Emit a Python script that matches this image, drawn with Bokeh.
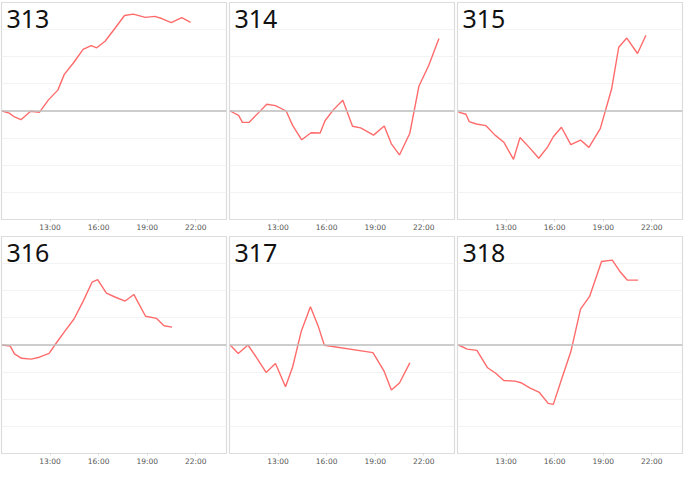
from bokeh.plotting import figure
from bokeh.layouts import gridplot
from bokeh.models import Range1d, FixedTicker, Span, Label
from bokeh.embed import file_html
from bokeh.resources import INLINE

# ---- data (hours of day, value) ----
names = ["313", "314", "315", "316", "317", "318"]
tick_hours = [13, 16, 19, 22]
tick_labels = ["13:00", "16:00", "19:00", "22:00"]

t313 = [10.04, 10.48, 10.8, 11.2, 11.8, 12.34, 12.9, 13.48, 13.88, 14.44, 15.04, 15.54,
        15.88, 16.4, 17.0, 17.6, 18.14, 18.88, 19.48, 19.94, 20.48, 21.14, 21.68]
v313 = [0.0, -0.08, -0.22, -0.32, -0.01, -0.05, 0.41, 0.77, 1.35, 1.77, 2.27, 2.41,
        2.33, 2.57, 3.04, 3.52, 3.57, 3.45, 3.49, 3.4, 3.26, 3.44, 3.27]

t314 = [10.04, 10.56, 10.8, 11.2, 11.8, 12.3, 12.84, 13.5, 13.9, 14.46, 15.04, 15.6, 15.9,
        16.44, 17.0, 17.6, 18.1, 18.9, 19.56, 20.0, 20.5, 21.14, 21.7, 22.3, 22.94]
v314 = [0.0, -0.16, -0.42, -0.42, -0.06, 0.25, 0.2, 0.0, -0.53, -1.06, -0.8, -0.81, -0.36,
        0.06, 0.4, -0.56, -0.62, -0.89, -0.55, -1.21, -1.62, -0.82, 0.91, 1.67, 2.67]

t315 = [10.06, 10.52, 10.72, 11.16, 11.76, 12.32, 12.86, 13.46, 13.86, 14.46, 15.02, 15.56,
        15.92, 16.42, 17.0, 17.6, 18.12, 18.82, 19.52, 19.96, 20.46, 21.12, 21.64]
v315 = [-0.04, -0.12, -0.39, -0.48, -0.54, -0.89, -1.15, -1.78, -0.98, -1.36, -1.74, -1.33,
        -0.95, -0.6, -1.24, -1.07, -1.34, -0.65, 0.81, 2.35, 2.69, 2.12, 2.79]

t316 = [10.04, 10.54, 10.8, 11.24, 11.84, 12.34, 12.94, 13.44, 13.94, 14.48, 15.04, 15.6,
        15.94, 16.48, 17.04, 17.64, 18.18, 18.9, 19.58, 20.04, 20.54]
v316 = [0.0, -0.04, -0.33, -0.49, -0.52, -0.45, -0.31, 0.12, 0.53, 0.96, 1.61, 2.32,
        2.41, 1.91, 1.76, 1.62, 1.86, 1.06, 0.98, 0.71, 0.66]

t317 = [10.04, 10.54, 11.14, 11.7, 12.26, 12.84, 13.46, 13.9, 14.44, 15.0, 15.5, 15.86,
        18.86, 19.54, 20.0, 20.5, 21.14]
v317 = [0.0, -0.31, 0.0, -0.49, -1.01, -0.68, -1.54, -0.81, 0.52, 1.41, 0.66, -0.01,
        -0.28, -0.95, -1.66, -1.4, -0.66]

t318 = [10.06, 10.6, 11.2, 11.86, 12.36, 12.86, 13.56, 13.92, 14.46, 15.06, 15.6, 15.92,
        16.46, 17.0, 17.6, 18.16, 18.9, 19.56, 20.02, 20.5, 21.16]
v318 = [0.0, -0.15, -0.2, -0.84, -1.04, -1.31, -1.33, -1.39, -1.58, -1.75, -2.15, -2.19,
        -1.21, -0.25, 1.32, 1.79, 3.08, 3.13, 2.72, 2.39, 2.39]

series = [(t313, v313), (t314, v314), (t315, v315), (t316, v316), (t317, v317), (t318, v318)]

X0, X1 = 10.0, 23.9
Y0, Y1 = -4, 4

figs = []
for name, (ts, vs) in zip(names, series):
    p = figure(width=228, height=234, output_backend="svg", toolbar_location=None,
               x_range=Range1d(X0, X1), y_range=Range1d(Y0, Y1),
               min_border_left=1, min_border_right=2, min_border_top=2, min_border_bottom=0)
    p.outline_line_color = "#dcdcdc"
    p.outline_line_width = 1.2
    p.background_fill_color = "white"
    p.border_fill_color = "white"
    p.yaxis.visible = False
    p.xgrid.visible = False
    p.ygrid.ticker = FixedTicker(ticks=[-3, -2, -1, 1, 2, 3])
    p.ygrid.grid_line_color = "#f3f3f3"
    p.ygrid.grid_line_width = 1

    ax = p.xaxis[0]
    ax.ticker = FixedTicker(ticks=tick_hours)
    ax.major_label_overrides = {h: l for h, l in zip(tick_hours, tick_labels)}
    ax.axis_line_color = None
    ax.major_tick_line_color = "#d8d8d8"
    ax.major_tick_in = 0
    ax.major_tick_out = 2
    ax.minor_tick_line_color = None
    ax.major_label_text_font = "DejaVu Sans"
    ax.major_label_text_font_size = "7.5px"
    ax.major_label_text_color = "#555555"
    ax.major_label_standoff = 1
    ax.axis_label = None

    p.add_layout(Span(location=0, dimension="width", line_color="#bdbdbd", line_width=1.5))
    p.line(ts, vs, line_color="#ff6b6b", line_width=1.4)
    p.add_layout(Label(x=X0, y=Y1, x_offset=5, y_offset=-7, text=name,
                       text_baseline="top", text_font="Noto Sans",
                       text_font_size="25px", text_color="#111111"))
    figs.append(p)

grid = gridplot([figs[0:3], figs[3:6]], toolbar_location=None)

open("out.html", "w").write(file_html(grid, INLINE))
